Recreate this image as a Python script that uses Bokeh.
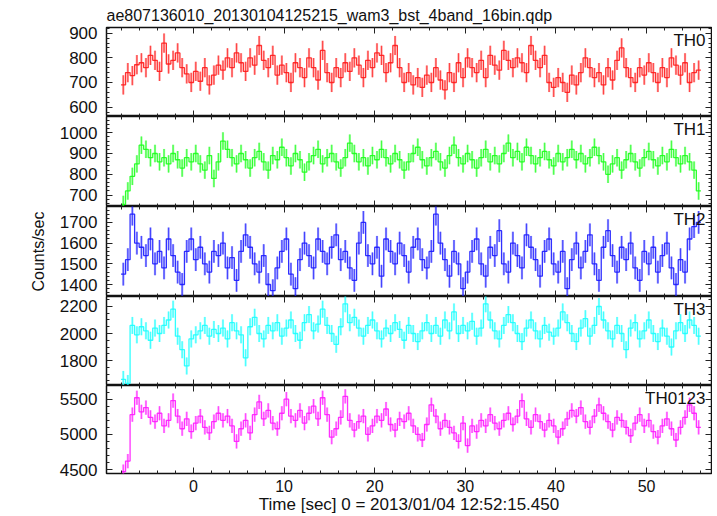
import numpy as np
from bokeh.plotting import figure
from bokeh.layouts import column
from bokeh.models import (Range1d, LinearAxis, Label, FixedTicker,
                          CustomLabelingPolicy)
from bokeh.embed import file_html
from bokeh.resources import INLINE

# ---------------- data ----------------
title_text = "ae807136010_20130104125215_wam3_bst_4band_16bin.qdp"
x_label = "Time [sec] 0 = 2013/01/04 12:52:15.450"
y_label = "Counts/sec"

t_start = -8.0
bin_width = 0.5

th0 = [690, 740, 728, 772, 780, 760, 810, 790, 745, 860, 775, 790, 820, 760, 735, 700,
       745, 705, 760, 690, 730, 770, 750, 800, 760, 820, 780, 745, 800, 770, 850, 790,
       760, 810, 730, 770, 740, 700, 780, 760, 720, 800, 760, 710, 830, 740, 700, 760,
       720, 780, 745, 800, 770, 720, 790, 760, 820, 810, 740, 780, 850, 760, 700, 740,
       690, 720, 680, 730, 700, 760, 710, 670, 740, 700, 780, 720, 800, 760, 740, 790,
       720, 810, 770, 750, 830, 790, 760, 800, 780, 740, 850, 790, 760, 810, 700, 680,
       720, 700, 660, 730, 690, 740, 800, 760, 720, 740, 690, 760, 710, 790, 840, 760,
       720, 700, 760, 730, 780, 740, 700, 760, 720, 800, 770, 730, 780, 700, 740, 750]

th1 = [655, 720, 790, 850, 940, 920, 880, 900, 860, 880, 850, 900, 870, 830, 880, 860,
       900, 850, 820, 890, 780, 860, 960, 920, 880, 850, 900, 870, 830, 880, 910, 860,
       820, 890, 870, 930, 880, 840, 900, 870, 810, 860, 890, 920, 850, 880, 900, 860,
       830, 880, 950, 900, 860, 880, 840, 890, 870, 920, 880, 850, 900, 870, 820, 860,
       900, 930, 870, 840, 880, 910, 860, 830, 890, 940, 880, 850, 900, 870, 830, 880,
       920, 860, 890, 850, 900, 950, 880, 910, 860, 930, 890, 850, 880, 910, 870, 840,
       900, 860, 880, 920, 870, 900, 850, 880, 930, 890, 860, 800, 850, 880, 820, 870,
       900, 860, 830, 880, 910, 870, 840, 890, 860, 920, 880, 850, 890, 860, 820, 720]

th2 = [1450, 1520, 1740, 1600, 1580, 1540, 1620, 1500, 1560, 1480, 1620, 1540, 1460, 1400, 1560, 1620,
       1520, 1580, 1500, 1460, 1560, 1540, 1600, 1480, 1530, 1420, 1560, 1640, 1580, 1500, 1460, 1540,
       1400, 1370, 1480, 1560, 1620, 1450, 1380, 1520, 1600, 1540, 1480, 1620, 1560, 1500, 1580, 1640,
       1520, 1560, 1480, 1420, 1600, 1700, 1540, 1500, 1580, 1440, 1620, 1560, 1500, 1600, 1540, 1460,
       1580, 1620, 1520, 1480, 1560, 1740, 1600, 1520, 1440, 1560, 1500, 1380, 1460, 1560, 1620, 1500,
       1440, 1580, 1540, 1660, 1500, 1460, 1600, 1540, 1480, 1640, 1580, 1520, 1440, 1560, 1620, 1500,
       1460, 1560, 1380, 1520, 1600, 1480, 1560, 1640, 1500, 1420, 1580, 1660, 1540, 1460, 1580, 1520,
       1600, 1480, 1420, 1560, 1500, 1580, 1460, 1540, 1600, 1480, 1400, 1520, 1460, 1620, 1680, 1700]

th3 = [1660, 1630, 2060, 1990, 2050, 2020, 1950, 2040, 2000, 2060, 2100, 2180, 1980, 1880, 1760, 1960,
       1990, 2020, 2060, 1980, 2030, 2000, 2040, 1960, 2080, 2020, 1990, 1820, 2050, 2120, 2000, 1960,
       2060, 2020, 2080, 1980, 2040, 2100, 2000, 1950, 2080, 2140, 2020, 2070, 2180, 2060, 2000, 1920,
       2050, 2220, 2080, 2120, 2040, 1980, 2060, 2100, 2020, 1960, 2040, 2000, 2080, 2030, 1950, 2060,
       2000, 1940, 2020, 2080, 2000, 2060, 1980, 2100, 2020, 2160, 2000, 2060, 2020, 2090, 1980, 2040,
       2220, 2100, 2020, 1960, 2060, 2140, 2080, 2000, 1940, 2040, 2100, 2020, 1960, 2060, 2010, 1980,
       2040, 2160, 2080, 2000, 1940, 2040, 2110, 1980, 2060, 2200, 2100, 2020, 1960, 2060, 2000, 1880,
       2040, 2080, 1960, 2020, 2100, 2000, 1940, 2040, 1980, 1900, 2020, 2080, 2000, 2100, 2060, 1980]

th0123 = [4470, 4620, 5280, 5520, 5320, 5380, 5240, 5180, 5300, 5120, 5200, 5480, 5260, 5080, 5220, 5040,
          5160, 5260, 5100, 5020, 5180, 5300, 5200, 5260, 5120, 4900, 5080, 5200, 5020, 5280, 5460, 5220,
          5340, 5160, 5080, 5300, 5500, 5260, 5200, 5340, 5160, 5300, 5400, 5220, 5520, 5280, 4960, 5080,
          5240, 5540, 5200, 5060, 5180, 5260, 5000, 5120, 5260, 5200, 5360, 5140, 5060, 5220, 5180, 5300,
          5120, 5000, 4920, 5140, 5420, 5260, 5080, 5200, 5100, 5020, 4900, 5160, 4840, 5120, 5040, 5200,
          5120, 5280, 5160, 5080, 5200, 5300, 5140, 5260, 5480, 5220, 5100, 5280, 5180, 5060, 5200, 5120,
          4960, 5080, 5220, 5340, 5260, 5380, 5180, 5100, 5260, 5420, 5300, 5180, 5060, 5240, 5200, 5100,
          4980, 5160, 5280, 5120, 5200, 5040, 4960, 5120, 5220, 5080, 4920, 5100, 5240, 5420, 5300, 5100]

panel_names = ["TH0", "TH1", "TH2", "TH3", "TH0123"]
panel_series = [th0, th1, th2, th3, th0123]
panel_errors = [39, 42, 55, 63, 101]
panel_colors = ["#ff1a1a", "#1aff1a", "#1a1aff", "#1affff", "#ff1aff"]
panel_yranges = [(562, 923), (645, 1078), (1342, 1777), (1615, 2274), (4444, 5694)]
panel_major = [[600, 700, 800, 900], [700, 800, 900, 1000], [1400, 1500, 1600, 1700],
               [1800, 2000, 2200], [4500, 5000, 5500]]
panel_minor_step = [20, 20, 20, 50, 100]
x_major = [0, 10, 20, 30, 40, 50]
x_minor_step = 2

# ---------------- layout ----------------
FONT = "Liberation Sans"
INK = "#111111"
W = 712
LEFT, RIGHT, TOP, BOTTOM = 106, 1, 27, 41
frame_h = [89, 90, 90, 89, 90]
x_rng = Range1d(-9.603, 57.17)

no_labels = CustomLabelingPolicy(code="return []")

xminor = list(np.arange(-8, 57, x_minor_step))
xt = FixedTicker(ticks=x_major, minor_ticks=xminor)


def style_ticks(ax):
    ax.major_tick_in = 6
    ax.major_tick_out = 0
    ax.minor_tick_in = 3
    ax.minor_tick_out = 0
    ax.axis_line_color = None
    ax.major_tick_line_color = "#222222"
    ax.minor_tick_line_color = "#222222"


def hidden_axis(ticker, **kw):
    ax = LinearAxis(ticker=ticker, **kw)
    style_ticks(ax)
    ax.major_label_policy = no_labels
    ax.major_label_text_font_size = "0px"
    ax.major_label_standoff = 0
    return ax


figs = []
for k in range(len(panel_names)):
    lo, hi = panel_yranges[k]
    top = TOP if k == 0 else 0
    bot = BOTTOM if k == len(panel_names) - 1 else 0
    p = figure(width=W, height=frame_h[k] + top + bot, x_range=x_rng,
               y_range=Range1d(lo, hi), output_backend="svg", toolbar_location=None,
               min_border_left=LEFT, min_border_right=RIGHT, min_border_top=top,
               min_border_bottom=bot, x_axis_location=None, y_axis_location=None)
    p.grid.visible = False
    p.outline_line_color = INK
    p.outline_line_width = 1.5
    p.background_fill_color = "white"
    p.border_fill_color = "white"

    step = panel_minor_step[k]
    yminor = list(np.arange(lo - lo % step + step, hi, step))
    yt = FixedTicker(ticks=panel_major[k], minor_ticks=yminor)

    la = LinearAxis(ticker=yt)
    style_ticks(la)
    la.major_label_text_font = FONT
    la.major_label_text_font_size = "17px"
    la.major_label_text_color = INK
    la.major_label_standoff = 9
    if k == 2:
        la.axis_label = y_label
        la.axis_label_text_font = FONT
        la.axis_label_text_font_size = "16px"
        la.axis_label_text_font_style = "normal"
        la.axis_label_text_color = INK
        la.axis_label_standoff = 10
    p.add_layout(la, "left")
    p.add_layout(hidden_axis(yt), "right")
    p.add_layout(hidden_axis(xt), "above")

    if k == len(panel_names) - 1:
        ba = LinearAxis(ticker=xt)
        style_ticks(ba)
        ba.major_label_text_font = FONT
        ba.major_label_text_font_size = "16px"
        ba.major_label_text_color = INK
        ba.major_label_standoff = 6
        ba.axis_label = x_label
        ba.axis_label_text_font = FONT
        ba.axis_label_text_font_size = "17px"
        ba.axis_label_text_font_style = "normal"
        ba.axis_label_text_color = INK
        ba.axis_label_standoff = 0
        p.add_layout(ba, "below")
    else:
        p.add_layout(hidden_axis(xt), "below")

    if k == 0:
        p.title.text = title_text
        p.title.align = "left"
        p.title.text_font = FONT
        p.title.text_font_size = "16px"
        p.title.text_font_style = "normal"
        p.title.text_color = INK
        p.title.standoff = 7
        p.title.offset = 0

    vals = np.array(panel_series[k], dtype=float)
    n = len(vals)
    t = t_start + bin_width * (np.arange(n) + 0.5)
    err = panel_errors[k]
    col = panel_colors[k]

    p.segment(x0=t, y0=vals - err, x1=t, y1=vals + err,
              line_color=col, line_width=2.2, line_alpha=0.45)
    p.segment(x0=t, y0=vals - err, x1=t, y1=vals + err,
              line_color=col, line_width=0.9, line_alpha=0.75)
    xe = np.append(t - bin_width / 2, t[-1] + bin_width / 2)
    ye = np.append(vals, vals[-1])
    p.step(x=xe, y=ye, mode="after", line_color=col, line_width=1.3, line_alpha=0.9)

    p.add_layout(Label(x=x_rng.end, y=hi, text=panel_names[k],
                       text_align="right", text_baseline="top", x_offset=-6, y_offset=-3,
                       text_font=FONT, text_font_size="17px", text_color=INK))
    figs.append(p)

layout = column(*figs, spacing=0)
open("out.html", "w").write(file_html(layout, INLINE))
